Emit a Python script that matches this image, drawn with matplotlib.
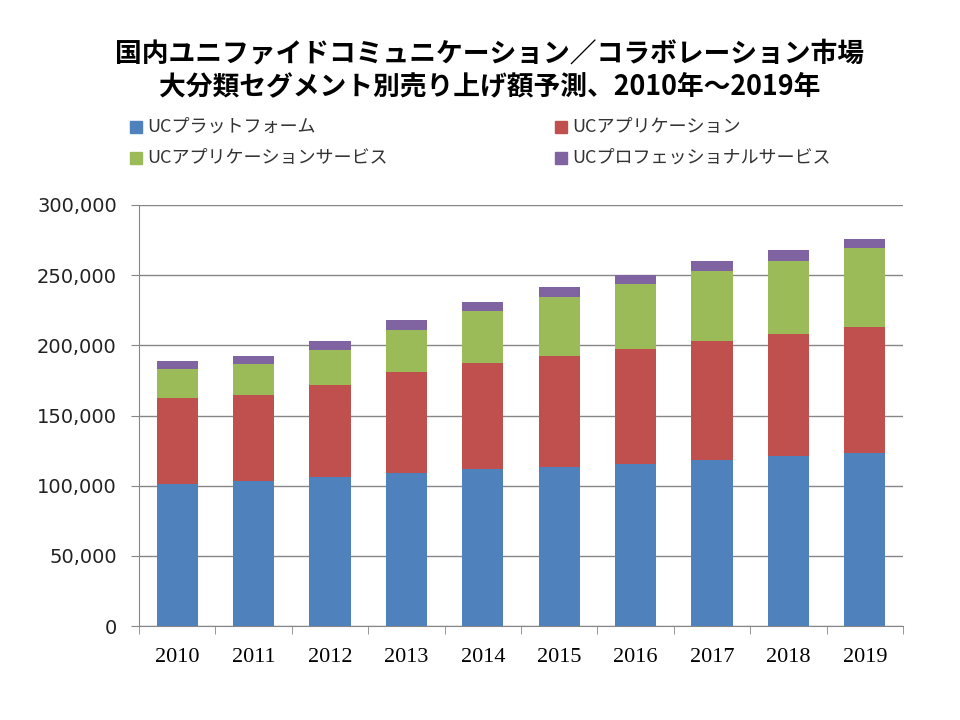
import numpy as np
import matplotlib
matplotlib.use("Agg")
import matplotlib.pyplot as plt
from matplotlib.patches import Rectangle

plt.rcParams['font.family'] = ['Noto Sans CJK JP', 'DejaVu Sans']

# data
years = ['2010', '2011', '2012', '2013', '2014', '2015', '2016', '2017', '2018', '2019']
series_names = ['UCプラットフォーム', 'UCアプリケーション',
                'UCアプリケーションサービス', 'UCプロフェッショナルサービス']
platform = [101000, 103300, 106100, 109000, 111800, 113200, 115200, 118000, 120800, 123200]
application = [61800, 61600, 65900, 72300, 75900, 79500, 82500, 85400, 87000, 89600]
app_service = [20100, 21600, 24500, 29900, 36500, 41400, 45700, 49900, 52600, 56300]
professional = [5700, 6200, 6800, 7100, 6400, 7300, 6800, 7100, 7600, 6900]
colors = ['#4F81BD', '#C0504D', '#9BBB59', '#8064A2']

title = '国内ユニファイドコミュニケーション／コラボレーション市場\n大分類セグメント別売り上げ額予測、2010年～2019年'

fig = plt.figure(figsize=(9.6, 7.2), dpi=100)
ax = fig.add_axes([139 / 960, 94 / 720, 764 / 960, 421 / 720])

x = np.arange(len(years))
bottom = np.zeros(len(years))
for vals, c in zip([platform, application, app_service, professional], colors):
    ax.bar(x, vals, width=0.54, bottom=bottom, color=c, zorder=3)
    bottom += np.array(vals)

ax.set_xlim(-0.5, len(years) - 0.5)
ax.set_ylim(0, 300000)
ax.set_yticks(range(0, 300001, 50000))
ax.set_yticklabels([f'{v:,}' for v in range(0, 300001, 50000)],
                   fontsize=14, family='DejaVu Sans', color='#222222')
ax.yaxis.grid(True, color='#868686', linewidth=1, zorder=0)

ax.set_xticks(x)
ax.set_xticklabels(years, fontsize=16, family='Liberation Serif')
ax.set_xticks(np.arange(-0.5, len(years)), minor=True)
ax.tick_params(axis='x', which='major', length=0, pad=16)
ax.tick_params(axis='x', which='minor', length=6, color='#868686')
ax.tick_params(axis='y', length=6, color='#868686', pad=10)

for s in ['top', 'right']:
    ax.spines[s].set_visible(False)
for s in ['left', 'bottom']:
    ax.spines[s].set_color('#868686')

fig.text(0.51, 1 - 70 / 720, title, ha='center', va='center', fontsize=19.3,
         fontweight='bold', linespacing=1.2)

# legend drawn by hand, two columns
legend_pos = [(130, 127), (555, 127), (130, 158), (555, 158)]
for name, c, (lx, ly) in zip(series_names, colors, legend_pos):
    fig.patches.append(Rectangle((lx / 960, 1 - (ly + 6) / 720), 12 / 960, 12 / 720,
                                 transform=fig.transFigure, color=c))
    fig.text((lx + 17) / 960, 1 - ly / 720, name, ha='left', va='center',
             fontsize=13, color='#333333')

fig.savefig('out.png', dpi=100)
